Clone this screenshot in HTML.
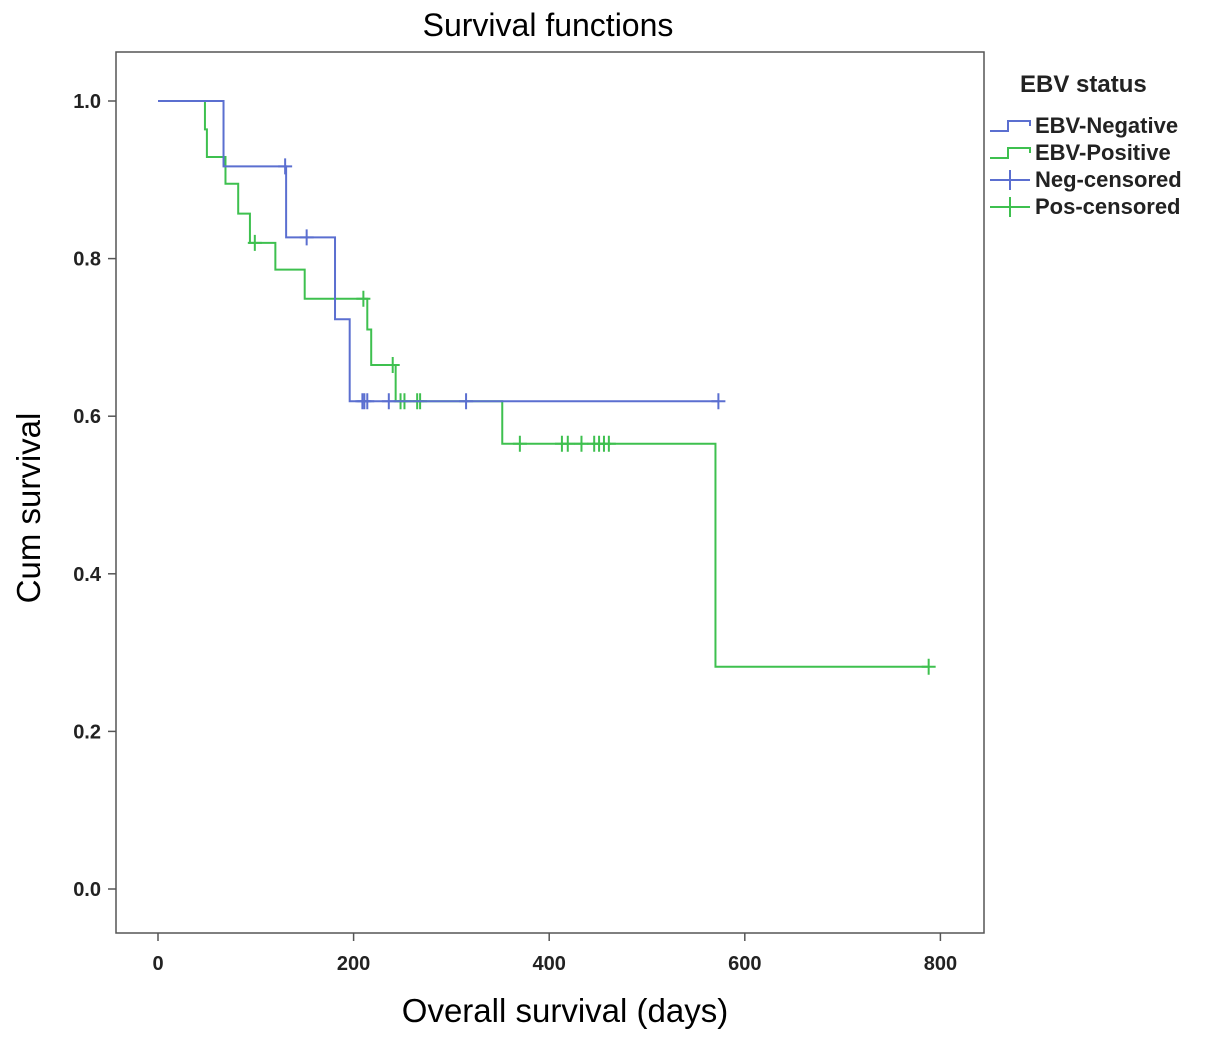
<!DOCTYPE html>
<html><head><meta charset="utf-8"><style>
body{margin:0;background:#fff;}
svg{display:block;font-family:"Liberation Sans",sans-serif;}
</style></head><body>
<svg id="chart" width="1205" height="1042">
<text x="548" y="36" font-size="32" text-anchor="middle">Survival functions</text>
<rect x="116" y="52" width="868" height="881" fill="none" stroke="#555" stroke-width="1.5"/>
<g id="axes"></g>
<g id="series"></g>
<text x="565" y="1022" font-size="33" text-anchor="middle">Overall survival (days)</text>
<text transform="translate(40,508) rotate(-90)" font-size="33" text-anchor="middle">Cum survival</text>
<g font-size="22" font-weight="bold" fill="#222">
<text x="1020" y="92" font-size="24">EBV status</text>
<g><path d="M990 131 H1008 V121 H1030 V126" fill="none" stroke="#5b6fd0" stroke-width="2"/><text x="1035" y="133">EBV-Negative</text></g>
<g><path d="M990 158 H1008 V148 H1030 V153" fill="none" stroke="#3ec04f" stroke-width="2"/><text x="1035" y="160">EBV-Positive</text></g>
<g><path d="M990 180 H1030 M1010 170 V190" fill="none" stroke="#5b6fd0" stroke-width="2"/><text x="1035" y="187">Neg-censored</text></g>
<g><path d="M990 207 H1030 M1010 197 V217" fill="none" stroke="#3ec04f" stroke-width="2"/><text x="1035" y="214">Pos-censored</text></g>
</g>
</svg>
<script>
const xTicks=[0,200,400,600,800];
const yTicks=[0.0,0.2,0.4,0.6,0.8,1.0];
const negTimes=[0,67,131,181,196];
const negSurv=[1.0,0.917,0.827,0.723,0.619];
const negEnd=573;
const negCensor=[130,152,209,211,214,236,315,573];
const posTimes=[0,48,50,69,82,94,120,150,214,218,243,352,570];
const posSurv=[1.0,0.964,0.929,0.895,0.857,0.82,0.786,0.749,0.71,0.665,0.619,0.565,0.282];
const posEnd=788;
const posCensor=[99,210,240,248,252,265,268,370,413,419,433,446,451,456,461,788];

const X=d=>158+d*0.978;
const Y=s=>889-s*788;
const NS="http://www.w3.org/2000/svg";
const axes=document.getElementById('axes'), ser=document.getElementById('series');
function mk(tag,attrs,parent){const e=document.createElementNS(NS,tag);for(const k in attrs)e.setAttribute(k,attrs[k]);parent.appendChild(e);return e;}
xTicks.forEach(t=>{
 const l=mk('line',{x1:X(t),x2:X(t),y1:933,y2:941,stroke:'#555','stroke-width':1.5},axes);
 
 
 const tx=mk('text',{x:X(t),y:970,'font-size':20,'font-weight':'bold','text-anchor':'middle',fill:'#222'},axes);tx.textContent=t;
 
 
});
yTicks.forEach(t=>{
 const l=mk('line',{x1:108,x2:116,y1:Y(t),y2:Y(t),stroke:'#555','stroke-width':1.5},axes);
 
 
 const tx=mk('text',{x:101,y:Y(t)+7,'font-size':20,'font-weight':'bold','text-anchor':'end',fill:'#222'},axes);tx.textContent=t.toFixed(1);
 
 
});
function curve(times,surv,end,cens,color,name){
 let d='M'+X(times[0])+' '+Y(surv[0]);
 for(let i=1;i<times.length;i++){d+=' H'+X(times[i])+' V'+Y(surv[i]);}
 d+=' H'+X(end);
 const p=mk('path',{d:d,fill:'none',stroke:color,'stroke-width':2},ser);
 
 
 cens.forEach(c=>{
  let s=surv[0];for(let i=0;i<times.length;i++){if(times[i]<=c)s=surv[i];}
  const m=mk('path',{d:'M'+(X(c)-7)+' '+Y(s)+' H'+(X(c)+7)+' M'+X(c)+' '+(Y(s)-8)+' V'+(Y(s)+8),stroke:color,'stroke-width':2,fill:'none'},ser);
  
  
 });
}
curve(posTimes,posSurv,posEnd,posCensor,'#3ec04f','ebv-positive');
curve(negTimes,negSurv,negEnd,negCensor,'#5b6fd0','ebv-negative');
</script>
</body></html>
